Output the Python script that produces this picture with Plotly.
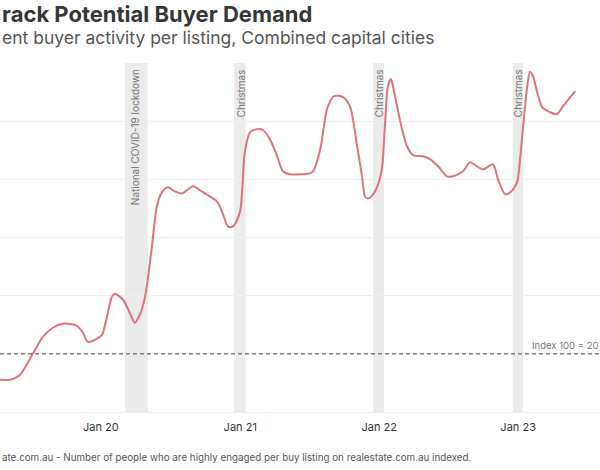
import plotly.graph_objects as go

# ---- data ----
dates = [
    "2019-03-26", "2019-04-11", "2019-05-07", "2019-06-02", "2019-07-06", "2019-08-02",
    "2019-08-28", "2019-09-23", "2019-10-30", "2019-11-15", "2019-11-28", "2019-12-21",
    "2020-01-04", "2020-01-17", "2020-01-30", "2020-02-07", "2020-02-28", "2020-03-17",
    "2020-03-30", "2020-04-12", "2020-04-26", "2020-05-14", "2020-05-27", "2020-06-09",
    "2020-06-25", "2020-07-13", "2020-08-01", "2020-08-17", "2020-08-30", "2020-09-22",
    "2020-10-13", "2020-11-01", "2020-11-14", "2020-11-30", "2020-12-13", "2020-12-31",
    "2021-01-13", "2021-01-27", "2021-02-14", "2021-03-02", "2021-03-20", "2021-04-08",
    "2021-04-23", "2021-05-12", "2021-06-07", "2021-07-09", "2021-07-30", "2021-08-17",
    "2021-09-04", "2021-09-28", "2021-10-16", "2021-11-04", "2021-11-17", "2021-11-25",
    "2021-12-03", "2021-12-16", "2021-12-29", "2022-01-08", "2022-01-16", "2022-01-24",
    "2022-02-01", "2022-02-06", "2022-02-17", "2022-03-02", "2022-03-15", "2022-03-31",
    "2022-04-26", "2022-05-15", "2022-06-05", "2022-06-28", "2022-07-14", "2022-08-09",
    "2022-08-28", "2022-09-15", "2022-10-01", "2022-10-27", "2022-11-09", "2022-11-28",
    "2022-12-11", "2022-12-29", "2023-01-06", "2023-01-14", "2023-01-25", "2023-02-01",
    "2023-02-09", "2023-02-20", "2023-03-05", "2023-03-26", "2023-04-13", "2023-04-29",
    "2023-05-31",
]
demand_index = [
    76.7, 77.6, 77.6, 81.9, 100.0, 114.7,
    122.4, 125.9, 124.1, 118.1, 110.3, 112.9,
    116.4, 131.9, 149.1, 151.7, 146.5, 135.3,
    126.7, 133.6, 149.1, 192.2, 226.7, 238.8,
    243.1, 239.6, 237.9, 241.4, 244.0, 239.6,
    235.3, 231.0, 222.4, 209.5, 209.5, 221.5,
    273.3, 290.5, 293.1, 292.2, 284.5, 269.8,
    256.9, 254.3, 254.3, 256.0, 275.8, 310.3,
    321.5, 320.7, 312.9, 278.4, 252.6, 235.3,
    233.6, 237.1, 245.7, 258.6, 295.7, 330.2,
    336.2, 330.2, 312.9, 293.1, 278.4, 270.7,
    269.8, 267.2, 261.2, 252.6, 252.6, 256.9,
    264.6, 261.2, 258.6, 262.9, 250.0, 237.1,
    238.8, 247.4, 267.2, 295.7, 330.2, 342.2,
    338.8, 325.0, 312.1, 307.7, 306.0, 312.9,
    325.8,
]

band_starts = ["2020-03-04", "2020-12-16", "2021-12-16", "2022-12-18"]
band_ends = ["2020-05-03", "2021-01-15", "2022-01-14", "2023-01-14"]
band_labels = ["National COVID-19 lockdown", "Christmas", "Christmas", "Christmas"]
band_label_x = ["2020-03-31", "2021-01-04", "2022-01-01", "2023-01-01"]

tick_vals = ["2020-01-01", "2021-01-01", "2022-01-01", "2023-01-01"]
tick_text = ["Jan 20", "Jan 21", "Jan 22", "Jan 23"]

baseline_value = 100
baseline_label = "Index 100 = 20"
x_range = ["2019-04-11", "2023-08-04"]
y_range = [50, 350]

title_text = "rack Potential Buyer Demand"
subtitle_text = "ent buyer activity per listing, Combined capital cities"
caption_text = "ate.com.au - Number of people who are highly engaged per buy listing on realestate.com.au indexed."

FONT = "Inter"

fig = go.Figure()

fig.add_trace(go.Scatter(
    x=dates, y=demand_index, mode="lines",
    line=dict(color="#de727d", width=2, shape="spline", smoothing=0.8),
    hoverinfo="skip", showlegend=False,
))

shapes = []
for s, e in zip(band_starts, band_ends):
    shapes.append(dict(type="rect", xref="x", yref="paper", x0=s, x1=e, y0=0, y1=1,
                       fillcolor="#ebebeb", line=dict(width=0), layer="below"))
shapes.append(dict(type="line", xref="paper", yref="y", x0=0, x1=1,
                   y0=baseline_value, y1=baseline_value,
                   line=dict(color="#444444", width=1, dash="4px,3px")))

annotations = []
for lx, lab in zip(band_label_x, band_labels):
    annotations.append(dict(x=lx, y=1, xref="x", yref="paper", text=lab, textangle=-90,
                            showarrow=False, xanchor="center", yanchor="top", yshift=-4,
                            font=dict(family=FONT, size=10, color="#777777")))
annotations.append(dict(x=1, y=baseline_value, xref="paper", yref="y",
                        text=baseline_label, showarrow=False,
                        xanchor="right", yanchor="bottom", xshift=0, yshift=1,
                        font=dict(family=FONT, size=9.5, color="#777777")))
annotations += [
    dict(xref="paper", yref="paper", x=0, y=1, yshift=49, xanchor="left", yanchor="middle",
         text="<b>" + title_text + "</b>", showarrow=False,
         font=dict(family=FONT, size=22, color="#363636")),
    dict(xref="paper", yref="paper", x=0, y=1, yshift=26, xanchor="left", yanchor="middle",
         text=subtitle_text, showarrow=False,
         font=dict(family=FONT, size=17.5, color="#555555")),
    dict(xref="paper", yref="paper", x=0, y=0, yshift=-45, xanchor="left", yanchor="middle",
         text=caption_text, showarrow=False,
         font=dict(family=FONT, size=9.8, color="#555555")),
]

fig.update_layout(
    width=600, height=470,
    margin=dict(l=0, r=0, t=63, b=58),
    paper_bgcolor="white", plot_bgcolor="white",
    shapes=shapes, annotations=annotations,
    showlegend=False,
)

fig.update_xaxes(range=x_range, tickvals=tick_vals, ticktext=tick_text, showgrid=False,
                 showline=True, linecolor="#f0f0f0", ticks="", ticklabelstandoff=5,
                 tickfont=dict(family=FONT, size=11, color="#333333"))
fig.update_yaxes(range=y_range, dtick=50, tick0=50, showgrid=True, gridcolor="#efefef",
                 showticklabels=False, zeroline=False)

fig.write_html("out.html", config={"displayModeBar": False},
               post_script="document.body.style.margin='0';document.body.style.overflow='hidden';")
